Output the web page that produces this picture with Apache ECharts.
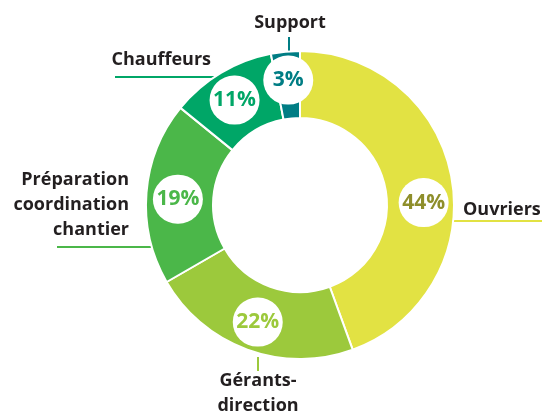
<!DOCTYPE html>
<html>
<head>
<meta charset="utf-8">
<script src="https://cdn.jsdelivr.net/npm/echarts@6/dist/echarts.min.js"></script>
<style>
  html, body { margin: 0; padding: 0; background: #fff; }
  #chart { width: 542px; height: 414px; }
</style>
</head>
<body>
<div id="chart"></div>
<script>
// chart data
var categories = ['Ouvriers', 'Gérants-\ndirection', 'Préparation\ncoordination\nchantier', 'Chauffeurs', 'Support'];
var shares = [44, 22, 19, 11, 3];

// slice / text colours
var sliceColors = ['#e2e243', '#9cc93c', '#4bb749', '#00a667', '#007d84'];
var pctColors = ['#8e8e2b', '#9cc93c', '#4bb749', '#00a667', '#007d84'];

// where each category name sits and how its leader line runs
var callouts = [
    {x: 463, y: 210, align: 'left', va: 'middle', line: [[454, 221], [542, 221], [542, 221]]},
    {x: 258, y: 368, align: 'center', va: 'top', line: [[258, 357], [258, 371], [258, 371]]},
    {x: 129, y: 205, align: 'right', va: 'middle', line: [[152, 247], [57, 247], [57, 247]]},
    {x: 211, y: 60, align: 'right', va: 'middle', line: [[214, 77], [115, 77], [115, 77]]},
    {x: 290, y: 23, align: 'center', va: 'middle', line: [[289, 52], [289, 37], [289, 37]]}
];
// nudges for the percentage bubbles
var bubbleShift = [[2, 19], [0, 1], [1, 4], [-2, 1], [0, -2]];

var font = '"Open Sans", "Noto Sans", sans-serif';

var chart = echarts.init(document.getElementById('chart'));

var ringData = categories.map(function (name, i) {
    return {
        name: name,
        value: shares[i],
        itemStyle: {color: sliceColors[i]},
        label: {color: pctColors[i]}
    };
});

var nameData = categories.map(function (name, i) {
    return {
        name: name,
        value: shares[i],
        labelLine: {lineStyle: {color: sliceColors[i]}}
    };
});

var option = {
    animation: false,
    series: [
        {
            type: 'pie',
            center: [300, 205],
            radius: [87, 154],
            startAngle: 90,
            clockwise: true,
            silent: true,
            itemStyle: {borderColor: '#fff', borderWidth: 2},
            label: {
                show: true,
                position: 'inside',
                formatter: '{c}%',
                fontFamily: font,
                fontWeight: 'bold',
                fontSize: 21,
                backgroundColor: '#fff',
                borderRadius: 25,
                width: 50,
                height: 49,
                lineHeight: 49,
                align: 'center'
            },
            labelLine: {show: false},
            labelLayout: function (p) {
                var s = bubbleShift[p.dataIndex];
                return {dx: s[0], dy: s[1]};
            },
            data: ringData
        },
        {
            type: 'pie',
            center: [300, 205],
            radius: [87, 154],
            startAngle: 90,
            clockwise: true,
            silent: true,
            avoidLabelOverlap: false,
            itemStyle: {color: 'rgba(0,0,0,0)'},
            label: {
                show: true,
                position: 'outside',
                formatter: '{b}',
                color: '#231f20',
                fontFamily: font,
                fontWeight: 'bold',
                fontSize: 18,
                lineHeight: 25
            },
            labelLine: {show: true, lineStyle: {width: 2}},
            labelLayout: function (p) {
                var c = callouts[p.dataIndex];
                return {
                    x: c.x,
                    y: c.y,
                    align: c.align,
                    verticalAlign: c.va,
                    labelLinePoints: c.line
                };
            },
            data: nameData
        }
    ]
};

chart.setOption(option);
</script>
</body>
</html>
